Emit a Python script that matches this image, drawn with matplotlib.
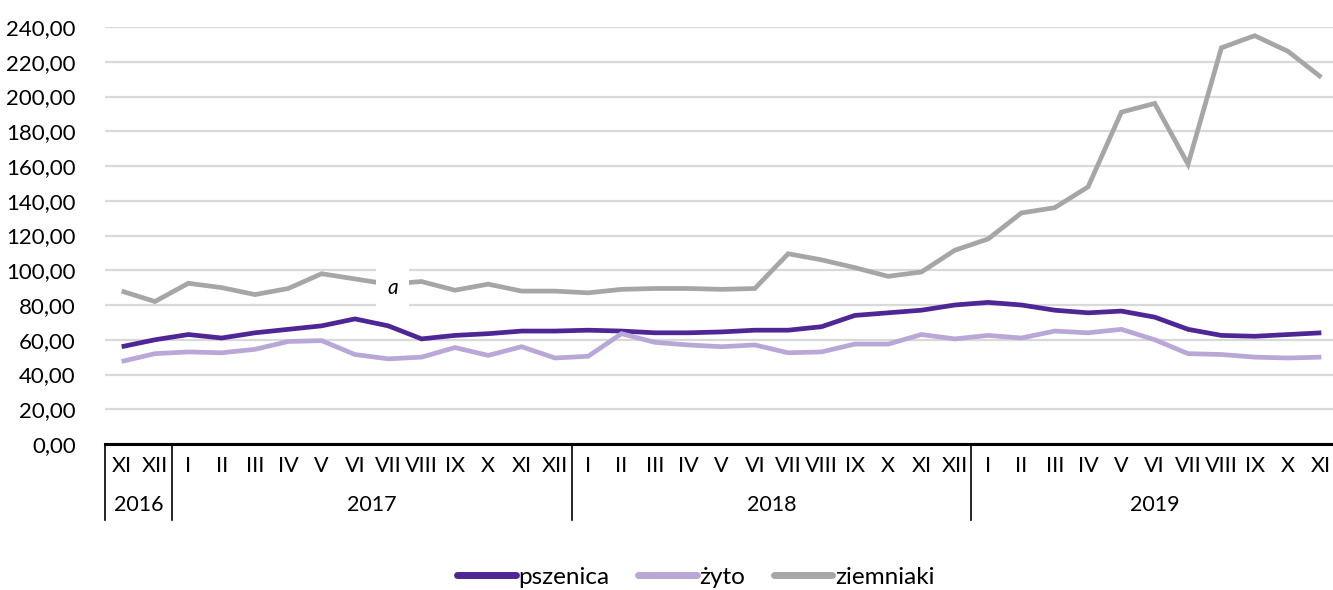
import matplotlib
matplotlib.use("Agg")
import matplotlib.pyplot as plt
from matplotlib.transforms import blended_transform_factory

months = ["XI", "XII",
          "I", "II", "III", "IV", "V", "VI", "VII", "VIII", "IX", "X", "XI", "XII",
          "I", "II", "III", "IV", "V", "VI", "VII", "VIII", "IX", "X", "XI", "XII",
          "I", "II", "III", "IV", "V", "VI", "VII", "VIII", "IX", "X", "XI"]
years = ["2016"] * 2 + ["2017"] * 12 + ["2018"] * 12 + ["2019"] * 11

pszenica = [56, 60, 63, 61, 64, 66, 68, 72, 68, 60.5, 62.5, 63.5, 65, 65,
            65.5, 65, 64, 64, 64.5, 65.5, 65.5, 67.5, 74, 75.5, 77, 80,
            81.5, 80, 77, 75.5, 76.5, 73, 66, 62.5, 62, 63, 64]
zyto = [47.5, 52, 53, 52.5, 54.5, 59, 59.5, 51.5, 49, 50, 55.5, 51, 56, 49.5,
        50.5, 63.5, 58.5, 57, 56, 57, 52.5, 53, 57.5, 57.5, 63, 60.5,
        62.5, 61, 65, 64, 66, 60, 52, 51.5, 50, 49.5, 50]
ziemniaki = [88, 82, 92.5, 90, 86, 89.5, 98, 95, 92, 93.5, 88.5, 92, 88, 88,
             87, 89, 89.5, 89.5, 89, 89.5, 109.5, 106, 101.5, 96.5, 99, 111.5,
             118, 133, 136, 148, 191, 196, 161, 228, 235, 226, 211]
series_names = ["pszenica", "żyto", "ziemniaki"]
colors = ["#4F2696", "#B9A7D7", "#A6A6A6"]
note_label = "a"
note_index = 8
yticks = list(range(0, 241, 20))

plt.rcParams['font.family'] = ['Lato', 'DejaVu Sans']

fig = plt.figure(figsize=(13.33, 5.9), dpi=100)
ax = fig.add_axes([105 / 1333, 1 - 444 / 590, 1233 / 1333, 417 / 590])

x = list(range(len(months)))
for vals, name, col in zip([pszenica, zyto, ziemniaki], series_names, colors):
    ax.plot(x, vals, color=col, lw=3.4, label=name, solid_joinstyle='miter',
            solid_capstyle='butt', zorder=3)

ax.text(note_index + 0.13, ziemniaki[note_index] - 2, note_label, style='italic',
        fontsize=15, ha='center', va='center', zorder=5,
        bbox=dict(boxstyle='square,pad=0.55', fc='white', ec='none'))

ax.set_xlim(-0.5, len(months) - 0.5)
ax.set_ylim(0, 240)
ax.set_yticks(yticks)
ax.set_yticklabels([f"{v:.2f}".replace('.', ',') for v in yticks], fontsize=16)
ax.tick_params(axis='y', length=0, pad=21)
ax.set_xticks([])
ax.grid(axis='y', color='#D9D9D9', lw=1.6, zorder=0)
ax.set_axisbelow(True)
for s in ['top', 'right', 'left']:
    ax.spines[s].set_visible(False)
ax.spines['bottom'].set_linewidth(2.2)
ax.spines['bottom'].set_color('black')
ax.spines['bottom'].set_zorder(4)

trans = blended_transform_factory(ax.transData, ax.transAxes)
for i, m in enumerate(months):
    ax.text(i, -0.052, m, transform=trans, ha='center', va='center', fontsize=15.5)

# year groups
bounds = [-0.5]
groups = []
start = 0
for i in range(1, len(years) + 1):
    if i == len(years) or years[i] != years[start]:
        groups.append((years[start], start, i - 1))
        bounds.append(i - 0.5)
        start = i
for yr, a, b in groups:
    ax.text((a + b) / 2, -0.146, yr, transform=trans, ha='center', va='center',
            fontsize=15.5)
for bnd in bounds[:-1]:
    ax.plot([bnd, bnd], [0, -0.182], transform=trans, color='black', lw=1.2,
            clip_on=False)

fig.legend(loc='center', bbox_to_anchor=(0.522, 0.022), ncol=3, frameon=False,
           fontsize=17.5, handlelength=2.4, handletextpad=0.1, columnspacing=1.2,
           borderaxespad=0)
for line in fig.legends[0].get_lines():
    line.set_linewidth(5)
    line.set_solid_capstyle('round')

fig.savefig("out.png", dpi=100)
